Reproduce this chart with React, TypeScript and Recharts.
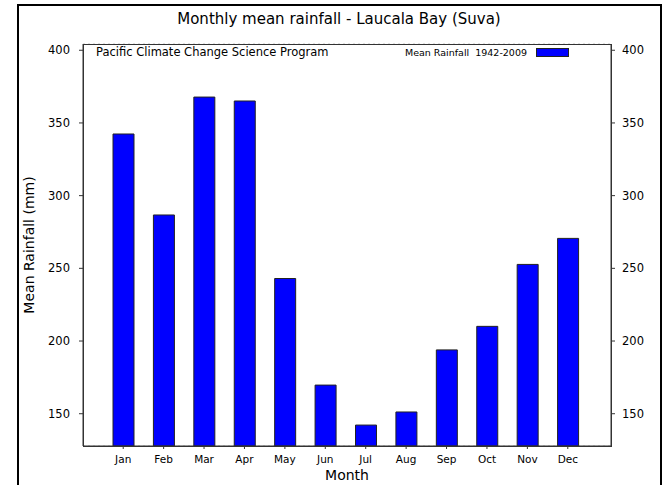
import React from 'react';
import { BarChart, Bar, XAxis, YAxis, CartesianGrid } from 'recharts';

const months = ['Jan', 'Feb', 'Mar', 'Apr', 'May', 'Jun', 'Jul', 'Aug', 'Sep', 'Oct', 'Nov', 'Dec'];
const rainfall = [342.4, 286.7, 367.8, 365.1, 243.0, 169.7, 142.2, 151.2, 193.9, 210.1, 252.7, 270.6];
const yTicks = [150, 200, 250, 300, 350, 400];

const data = months.map((m, i) => ({ month: m, rain: rainfall[i] }));

const FONT = '"DejaVu Sans", Verdana, sans-serif';

export default function App() {
  return (
    <div style={{ position: 'absolute', left: 0, top: 0, width: 662, height: 485, overflow: 'hidden', background: '#fff' }}>
      <div style={{ position: 'absolute', left: 17, top: 4, width: 641, height: 500, border: '2px solid #000' }} />
      <div style={{ position: 'absolute', left: 18, width: 642, top: 10, textAlign: 'center', fontFamily: FONT, fontSize: 15, color: '#000' }}>
        Monthly mean rainfall - Laucala Bay (Suva)
      </div>
      <div style={{ position: 'absolute', left: 0, top: 0 }}>
        <BarChart width={662} height={485} data={data} margin={{ top: 44, right: 6, bottom: 6, left: 23 }}>
          <CartesianGrid vertical={false} stroke="#c4c4c4" strokeDasharray="2 3" />
          <XAxis
            dataKey="month"
            xAxisId="bottom"
            padding={{ left: 20, right: 23 }}
            height={33}
            tickSize={3}
            tickMargin={7}
            tick={{ fontSize: 10.5, fill: '#000', fontFamily: FONT }}
            axisLine={{ stroke: '#333' }}
            tickLine={{ stroke: '#333' }}
            label={{ value: 'Month', position: 'insideBottom', offset: -1, fontSize: 14, fill: '#000', fontFamily: FONT }}
          />
          <YAxis
            yAxisId="left"
            width={60}
            domain={[127.8, 404.3]}
            ticks={yTicks}
            allowDataOverflow
            tickSize={4}
            tickMargin={9}
            tick={{ fontSize: 11.5, fill: '#000', fontFamily: FONT }}
            axisLine={{ stroke: '#333' }}
            tickLine={{ stroke: '#333' }}
            label={{ value: 'Mean Rainfall (mm)', angle: -90, position: 'insideLeft', offset: 6, style: { textAnchor: 'middle' }, fontSize: 14, fill: '#000', fontFamily: FONT }}
          />
          <YAxis
            yAxisId="right"
            orientation="right"
            width={45}
            domain={[127.8, 404.3]}
            ticks={yTicks}
            allowDataOverflow
            tickSize={4}
            tickMargin={7}
            tick={{ fontSize: 11.5, fill: '#000', fontFamily: FONT }}
            axisLine={{ stroke: '#333' }}
            tickLine={{ stroke: '#333' }}
          />
          <Bar
            dataKey="rain"
            xAxisId="bottom"
            yAxisId="left"
            fill="#0000ff"
            stroke="#222"
            strokeWidth={1}
            barSize={21}
            isAnimationActive={false}
          />
        </BarChart>
      </div>
      <div style={{ position: 'absolute', left: 83, top: 44, width: 527, height: 401, border: '1px solid #333', pointerEvents: 'none' }} />
      <div style={{ position: 'absolute', left: 96, top: 46, fontFamily: FONT, fontSize: 11.5, color: '#000', background: '#fff', lineHeight: '13px' }}>
        Pacific Climate Change Science Program
      </div>
      <div style={{ position: 'absolute', right: 93, top: 46, display: 'flex', alignItems: 'center', fontFamily: FONT, fontSize: 9.5, color: '#000', background: '#fff', lineHeight: '13px' }}>
        <span style={{ whiteSpace: 'pre' }}>Mean Rainfall  1942-2009</span>
        <span style={{ display: 'inline-block', width: 31, height: 7, background: '#0000ff', border: '1px solid #222', marginLeft: 9 }} />
      </div>
    </div>
  );
}
